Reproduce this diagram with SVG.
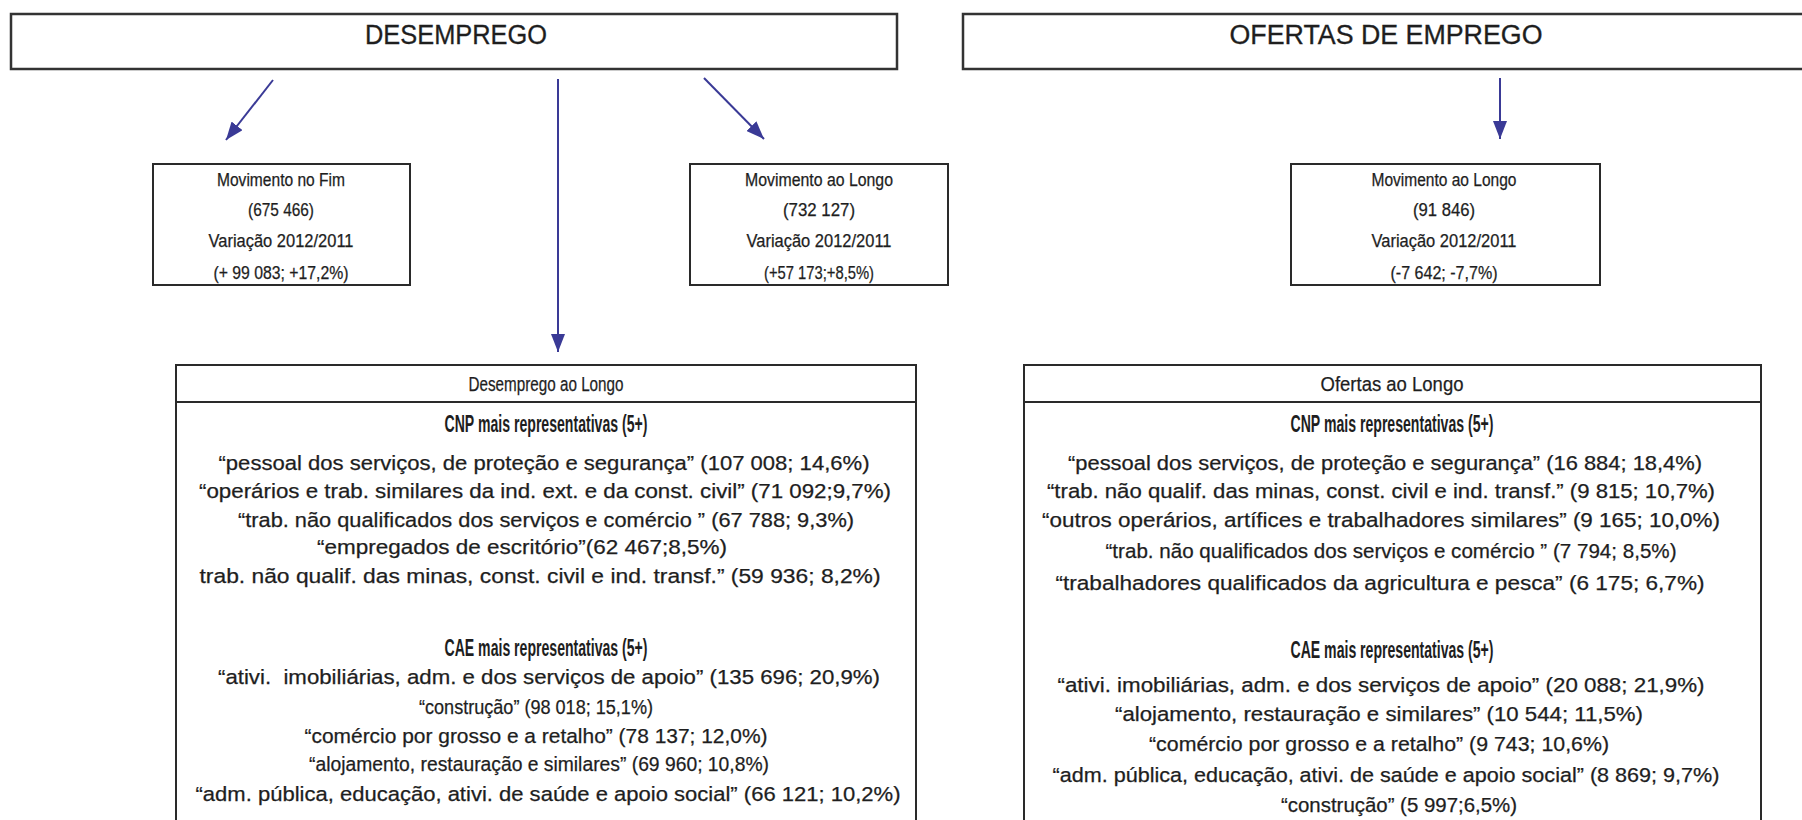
<svg xmlns="http://www.w3.org/2000/svg" width="1802" height="820" viewBox="0 0 1802 820">
<style>
text{font-family:"Liberation Sans",Arial,sans-serif;fill:#1e1e1e;text-anchor:middle;stroke:#1e1e1e;stroke-width:0.25}
.title{font-size:27px;stroke-width:0.3}
.small{font-size:17.5px}
.head{font-size:20.5px}
.sub{font-size:23px;font-weight:bold;stroke-width:0}
.body{font-size:20.5px}
.box{fill:#fff;stroke:#2a2a2a;stroke-width:2}
.tbox{fill:#fff;stroke:#333;stroke-width:2.5}
.conn{stroke:#3a3a96;stroke-width:2;fill:none}
</style>
<defs>
<marker id="ah" markerUnits="userSpaceOnUse" markerWidth="20" markerHeight="14" viewBox="0 0 20 14" refX="18" refY="7" orient="auto">
<path d="M0,0 L18,7 L0,14 Z" fill="#3a3a96"/>
</marker>
</defs>
<rect width="1802" height="820" fill="#fff"/>

<g id="desemprego">
<rect class="tbox" x="11" y="14" width="886" height="55"/>
<text class="title" x="456" y="44" textLength="182" lengthAdjust="spacingAndGlyphs">DESEMPREGO</text>
</g>
<g id="ofertas">
<rect class="tbox" x="963" y="14" width="860" height="55"/>
<text class="title" x="1386" y="44" textLength="313" lengthAdjust="spacingAndGlyphs">OFERTAS DE EMPREGO</text>
</g>

<g id="mov-fim">
<rect class="box" x="153" y="164" width="257" height="121"/>
<text class="small" x="281" y="186" textLength="128" lengthAdjust="spacingAndGlyphs">Movimento no Fim</text>
<text class="small" x="281" y="216" textLength="66" lengthAdjust="spacingAndGlyphs">(675 466)</text>
<text class="small" x="281" y="247" textLength="145" lengthAdjust="spacingAndGlyphs">Variação 2012/2011</text>
<text class="small" x="281" y="279" textLength="135" lengthAdjust="spacingAndGlyphs">(+ 99 083; +17,2%)</text>
</g>
<g id="mov-longo-d">
<rect class="box" x="690" y="164" width="258" height="121"/>
<text class="small" x="819" y="186" textLength="148" lengthAdjust="spacingAndGlyphs">Movimento ao Longo</text>
<text class="small" x="819" y="216" textLength="72" lengthAdjust="spacingAndGlyphs">(732 127)</text>
<text class="small" x="819" y="247" textLength="145" lengthAdjust="spacingAndGlyphs">Variação 2012/2011</text>
<text class="small" x="819" y="279" textLength="110" lengthAdjust="spacingAndGlyphs">(+57 173;+8,5%)</text>
</g>
<g id="mov-longo-o">
<rect class="box" x="1291" y="164" width="309" height="121"/>
<text class="small" x="1444" y="186" textLength="145" lengthAdjust="spacingAndGlyphs">Movimento ao Longo</text>
<text class="small" x="1444" y="216" textLength="62" lengthAdjust="spacingAndGlyphs">(91 846)</text>
<text class="small" x="1444" y="247" textLength="145" lengthAdjust="spacingAndGlyphs">Variação 2012/2011</text>
<text class="small" x="1444" y="279" textLength="107" lengthAdjust="spacingAndGlyphs">(-7 642; -7,7%)</text>
</g>

<g id="desemprego-longo">
<rect class="box" x="176" y="365" width="740" height="480"/>
<line x1="176" y1="402" x2="916" y2="402" stroke="#2a2a2a" stroke-width="2"/>
<text class="head" x="546" y="391" textLength="155" lengthAdjust="spacingAndGlyphs">Desemprego ao Longo</text>
<text class="sub" x="546" y="432" textLength="203" lengthAdjust="spacingAndGlyphs">CNP mais representativas (5+)</text>
<text class="body" x="544" y="470" textLength="651" lengthAdjust="spacingAndGlyphs">“pessoal dos serviços, de proteção e segurança” (107 008; 14,6%)</text>
<text class="body" x="545" y="498" textLength="692" lengthAdjust="spacingAndGlyphs">“operários e trab. similares da ind. ext. e da const. civil” (71 092;9,7%)</text>
<text class="body" x="546" y="527" textLength="616" lengthAdjust="spacingAndGlyphs">“trab. não qualificados dos serviços e comércio ” (67 788; 9,3%)</text>
<text class="body" x="522" y="554" textLength="410" lengthAdjust="spacingAndGlyphs">“empregados de escritório”(62 467;8,5%)</text>
<text class="body" x="540" y="583" textLength="681" lengthAdjust="spacingAndGlyphs">trab. não qualif. das minas, const. civil e ind. transf.” (59 936; 8,2%)</text>
<text class="sub" x="546" y="656" textLength="203" lengthAdjust="spacingAndGlyphs">CAE mais representativas (5+)</text>
<text class="body" x="549" y="684" textLength="662" lengthAdjust="spacingAndGlyphs" xml:space="preserve">“ativi.  imobiliárias, adm. e dos serviços de apoio” (135 696; 20,9%)</text>
<text class="body" x="536" y="714" textLength="234" lengthAdjust="spacingAndGlyphs">“construção” (98 018; 15,1%)</text>
<text class="body" x="536" y="743" textLength="463" lengthAdjust="spacingAndGlyphs">“comércio por grosso e a retalho” (78 137; 12,0%)</text>
<text class="body" x="539" y="771" textLength="460" lengthAdjust="spacingAndGlyphs">“alojamento, restauração e similares” (69 960; 10,8%)</text>
<text class="body" x="548" y="801" textLength="705" lengthAdjust="spacingAndGlyphs">“adm. pública, educação, ativi. de saúde e apoio social” (66 121; 10,2%)</text>
</g>

<g id="ofertas-longo">
<rect class="box" x="1024" y="365" width="737" height="480"/>
<line x1="1024" y1="402" x2="1761" y2="402" stroke="#2a2a2a" stroke-width="2"/>
<text class="head" x="1392" y="391" textLength="143" lengthAdjust="spacingAndGlyphs">Ofertas ao Longo</text>
<text class="sub" x="1392" y="432" textLength="203" lengthAdjust="spacingAndGlyphs">CNP mais representativas (5+)</text>
<text class="body" x="1385" y="470" textLength="634" lengthAdjust="spacingAndGlyphs">“pessoal dos serviços, de proteção e segurança” (16 884; 18,4%)</text>
<text class="body" x="1381" y="498" textLength="668" lengthAdjust="spacingAndGlyphs">“trab. não qualif. das minas, const. civil e ind. transf.” (9 815; 10,7%)</text>
<text class="body" x="1381" y="527" textLength="678" lengthAdjust="spacingAndGlyphs">“outros operários, artífices e trabalhadores similares” (9 165; 10,0%)</text>
<text class="body" x="1391" y="558" textLength="571" lengthAdjust="spacingAndGlyphs">“trab. não qualificados dos serviços e comércio ” (7 794; 8,5%)</text>
<text class="body" x="1380" y="590" textLength="649" lengthAdjust="spacingAndGlyphs">“trabalhadores qualificados da agricultura e pesca” (6 175; 6,7%)</text>
<text class="sub" x="1392" y="658" textLength="203" lengthAdjust="spacingAndGlyphs">CAE mais representativas (5+)</text>
<text class="body" x="1381" y="692" textLength="647" lengthAdjust="spacingAndGlyphs">“ativi. imobiliárias, adm. e dos serviços de apoio” (20 088; 21,9%)</text>
<text class="body" x="1379" y="721" textLength="528" lengthAdjust="spacingAndGlyphs">“alojamento, restauração e similares” (10 544; 11,5%)</text>
<text class="body" x="1379" y="751" textLength="460" lengthAdjust="spacingAndGlyphs">“comércio por grosso e a retalho” (9 743; 10,6%)</text>
<text class="body" x="1386" y="782" textLength="667" lengthAdjust="spacingAndGlyphs">“adm. pública, educação, ativi. de saúde e apoio social” (8 869; 9,7%)</text>
<text class="body" x="1399" y="812" textLength="236" lengthAdjust="spacingAndGlyphs">“construção” (5 997;6,5%)</text>
</g>

<g id="connectors">
<line class="conn" x1="273" y1="80" x2="226" y2="140" marker-end="url(#ah)"/>
<line class="conn" x1="558" y1="79" x2="558" y2="352" marker-end="url(#ah)"/>
<line class="conn" x1="704" y1="78" x2="764" y2="139" marker-end="url(#ah)"/>
<line class="conn" x1="1500" y1="78" x2="1500" y2="139" marker-end="url(#ah)"/>
</g>
</svg>
